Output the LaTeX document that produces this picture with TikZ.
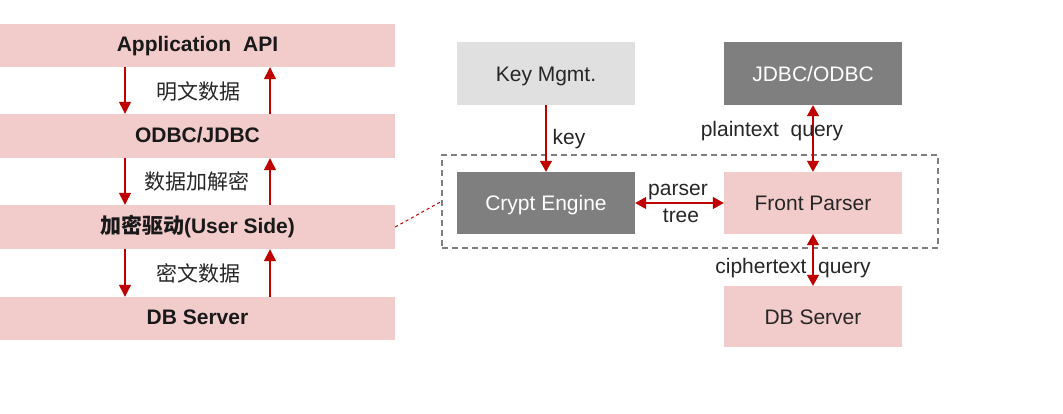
\documentclass[tikz,border=0pt]{standalone}
\usepackage{fontspec}
\setmainfont{Liberation Sans}
\newfontfamily\cjk{Noto Sans CJK SC}
\usetikzlibrary{arrows.meta}
\definecolor{pinkbar}{HTML}{F2CBCB}
\definecolor{darkred}{HTML}{C00000}
\definecolor{txt}{HTML}{262626}
\definecolor{gbox}{HTML}{7F7F7F}
\definecolor{lgbox}{HTML}{E0E0E0}
\begin{document}
\begin{tikzpicture}[x=1pt,y=-1pt,
  every node/.style={font=\fontsize{21}{24}\selectfont, text=txt},
  bar/.style={rectangle, fill=pinkbar, inner sep=0, minimum width=395pt, text height=16.8pt, text depth=4.2pt, font=\fontsize{21}{24}\selectfont\bfseries, text=black!90},
  rbox/.style={rectangle, inner sep=0, minimum width=178pt, minimum height=62pt, text height=19.3pt, text depth=4.2pt},
  arr/.style={draw=darkred, line width=1.3pt, -{Triangle[width=12pt,length=12pt]}},
  darr/.style={draw=darkred, line width=1.3pt, {Triangle[width=12pt,length=11pt]}-{Triangle[width=12pt,length=11pt]}},
  lbl/.style={inner sep=0},
  blbl/.style={inner sep=0, anchor=base}
]
\useasboundingbox (0,0) rectangle (1063,414);

% left stack
\node[bar, minimum height=43pt] (app) at (197.5,45.5) {Application\hspace{0.3em} API};
\node[bar, minimum height=44pt] (odbc) at (197.5,136) {ODBC/JDBC};
\node[bar, minimum height=44pt] (drv) at (197.5,227) {{\cjk\bfseries 加密驱动}(User Side)};
\node[bar, minimum height=43pt] (dbl) at (197.5,318.5) {DB Server};

\coordinate (xl) at (125,0);
\coordinate (xr) at (270,0);
\draw[arr] (app.south -| xl) -- (odbc.north -| xl);
\draw[arr] (odbc.north -| xr) -- (app.south -| xr);
\draw[arr] (odbc.south -| xl) -- (drv.north -| xl);
\draw[arr] (drv.north -| xr) -- (odbc.south -| xr);
\draw[arr] (drv.south -| xl) -- (dbl.north -| xl);
\draw[arr] (dbl.north -| xr) -- (drv.south -| xr);

\node[lbl] (l1) at (198,91.5) {\cjk 明文数据};
\node[lbl] (l2) at (197,181.5) {\cjk 数据加解密};
\node[lbl] (l3) at (198,273) {\cjk 密文数据};

% right side
\node[rectangle, draw=gbox, dash pattern=on 6pt off 4pt, line width=1.6pt, inner sep=0, minimum width=496pt, minimum height=93pt] (grp) at (690,201.5) {};
\draw[darkred, line width=1pt, dash pattern=on 3pt off 3pt] (drv.east) -- (grp.west);

\node[rbox, fill=lgbox, minimum height=63pt] (key) at (546,73.5) {Key Mgmt.};
\node[rbox, fill=gbox, text=white, minimum height=63pt] (jdbc) at (813,73.5) {JDBC/ODBC};
\node[rbox, fill=gbox, text=white] (crypt) at (546,203) {Crypt Engine};
\node[rbox, fill=pinkbar] (front) at (813,203) {Front Parser};
\node[rbox, fill=pinkbar, minimum height=61pt] (dbs) at (813,316.5) {DB Server};

\draw[arr, -{Triangle[width=12pt,length=11pt]}] (key.south) -- (crypt.north);
\draw[darr] (jdbc.south) -- (front.north);
\draw[darr] (crypt.east) -- (front.west);
\draw[darr] (front.south) -- (dbs.north);

\node[blbl] (kl) at (569,144.5) {key};
\node[blbl] (pq) at (772,137) {plaintext\hspace{0.28em} query};
\node[blbl] (pa) at (678,196) {parser};
\node[blbl] (tr) at (681,223) {tree};
\node[blbl] (cq) at (793,273) {ciphertext\hspace{0.28em} query};
\end{tikzpicture}
\end{document}
